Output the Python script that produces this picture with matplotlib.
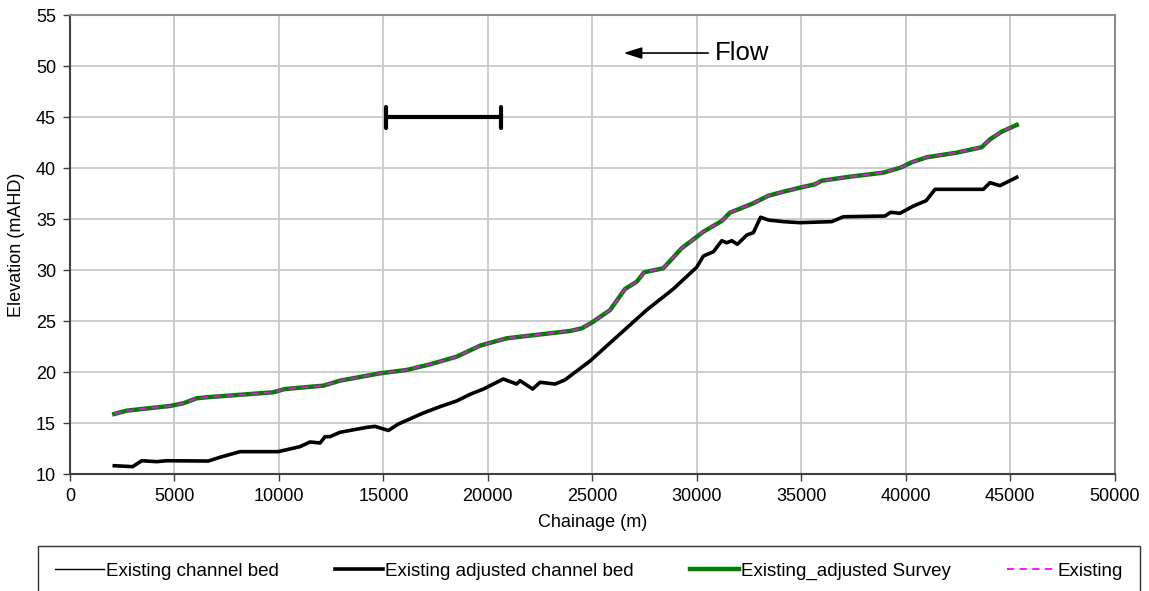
import matplotlib
matplotlib.use('Agg')
import matplotlib.pyplot as plt
from matplotlib.lines import Line2D

plt.rcParams['font.family'] = ['Liberation Sans', 'DejaVu Sans']

# surveyed water surface / adjusted survey (green, magenta dashed on top)
survey_chainage = [2120, 2710, 4790, 5420, 6065, 6540, 9730, 10290, 12125, 12925,
                   14840, 16120, 17235, 18510, 19630, 20020, 20900, 21860, 23935, 24495,
                   24970, 25850, 26570, 27130, 27480, 28400, 29280, 30320, 31200, 31590,
                   32710, 33430, 34145, 34945, 35660, 35985, 37340, 38930, 39810, 40290,
                   41010, 42440, 43640, 44040, 44600, 45320]
survey_elev = [15.91, 16.24, 16.70, 16.96, 17.45, 17.55, 18.04, 18.36, 18.69, 19.18,
               19.90, 20.23, 20.78, 21.53, 22.61, 22.84, 23.33, 23.56, 24.05, 24.31,
               24.86, 26.10, 28.17, 28.88, 29.80, 30.20, 32.16, 33.78, 34.83, 35.65,
               36.57, 37.31, 37.70, 38.10, 38.43, 38.78, 39.18, 39.57, 40.10, 40.59,
               41.08, 41.53, 42.06, 42.84, 43.59, 44.25]

# channel bed (thin = existing, thick = adjusted, same trace)
bed_chainage = [2120, 3000, 3430, 4150, 4630, 6620, 7180, 8140, 9970, 11010,
                11490, 11970, 12210, 12450, 12925, 14200, 14600, 15240, 15720, 16900,
                17710, 18510, 19150, 19790, 20740, 21380, 21540, 22150, 22500, 23220,
                23690, 24890, 26010, 27600, 28880, 30000, 30320, 30800, 31200, 31440,
                31680, 31945, 32400, 32710, 33060, 33430, 34145, 34945, 36460, 37020,
                39010, 39285, 39730, 40370, 40980, 41410, 43720, 44040, 44520, 45320]
bed_elev = [10.84, 10.75, 11.33, 11.24, 11.33, 11.30, 11.67, 12.22, 12.22, 12.71,
            13.17, 13.07, 13.69, 13.69, 14.12, 14.60, 14.70, 14.30, 14.93, 16.00,
            16.63, 17.19, 17.84, 18.36, 19.34, 18.85, 19.18, 18.36, 19.02, 18.85,
            19.25, 21.10, 23.17, 26.10, 28.17, 30.30, 31.40, 31.82, 32.90, 32.70,
            32.90, 32.55, 33.46, 33.69, 35.20, 34.93, 34.77, 34.67, 34.77, 35.25,
            35.32, 35.69, 35.59, 36.30, 36.82, 37.94, 37.94, 38.59, 38.30, 39.12]

# annotations
scale_bar_x = [15150, 20650]
scale_bar_y = 45
flow_tail = (30550, 51.3)
flow_head = (26500, 51.3)

x_ticks = list(range(0, 50001, 5000))
y_ticks = list(range(10, 56, 5))

fig = plt.figure(figsize=(11.49, 5.91), dpi=100)
ax = fig.add_axes([70 / 1149, 1 - 474.3 / 591, 1044.5 / 1149, 459 / 591])

ax.plot(bed_chainage, bed_elev, color='black', lw=1, label='Existing channel bed')
ax.plot(bed_chainage, bed_elev, color='black', lw=2.6, label='Existing adjusted channel bed')
ax.plot(survey_chainage, survey_elev, color='#008000', lw=3.2, label='Existing_adjusted Survey')
ax.plot(survey_chainage, survey_elev, color='#ff00ff', lw=1.3, ls=(0, (4, 3)), label='Existing')

# scale bar with end caps
ax.plot(scale_bar_x, [scale_bar_y, scale_bar_y], color='black', lw=3, solid_capstyle='round')
ax.vlines(scale_bar_x, scale_bar_y - 1.05, scale_bar_y + 1.05, color='black', lw=3,
          capstyle='round')

ax.annotate('', xy=flow_head, xytext=flow_tail,
            arrowprops=dict(arrowstyle='-|>,head_length=1.1,head_width=0.35',
                            color='black', lw=1.2, shrinkA=0, shrinkB=0))
ax.text(flow_tail[0] + 300, flow_tail[1], 'Flow', fontsize=18.5, va='center', ha='left')

ax.set_xlim(0, 50000)
ax.set_ylim(10, 55)
ax.set_xticks(x_ticks)
ax.set_yticks(y_ticks)
ax.tick_params(labelsize=13, length=5, width=1, pad=5, color='#404040')
ax.grid(True, color='#c8c8c8', lw=1.3)
ax.set_axisbelow(True)
for side in ['top', 'right']:
    ax.spines[side].set_color('#8c8c8c')
    ax.spines[side].set_linewidth(1.5)
for side in ['left', 'bottom']:
    ax.spines[side].set_color('#404040')
    ax.spines[side].set_linewidth(1.5)

ax.set_xlabel('Chainage (m)', fontsize=13, labelpad=6)
ax.set_ylabel('Elevation (mAHD)', fontsize=13, labelpad=8)

handles = [Line2D([], [], color='black', lw=1),
           Line2D([], [], color='black', lw=2.6),
           Line2D([], [], color='#008000', lw=3.2),
           Line2D([], [], color='#ff00ff', lw=1.3, ls=(0, (4, 3)))]
labels = ['Existing channel bed', 'Existing adjusted channel bed',
          'Existing_adjusted Survey', 'Existing']
leg = fig.legend(handles, labels, loc='upper left', ncol=4, mode='expand',
                 bbox_to_anchor=(38 / 1149, 1 - 546 / 591, 1102 / 1149, 0.0),
                 fontsize=13.5, frameon=True, fancybox=False, borderpad=0.9,
                 handlelength=2.6, handletextpad=0.1, borderaxespad=0)
leg.get_frame().set_edgecolor('black')
leg.get_frame().set_linewidth(1)

fig.savefig('out.png', dpi=100)
